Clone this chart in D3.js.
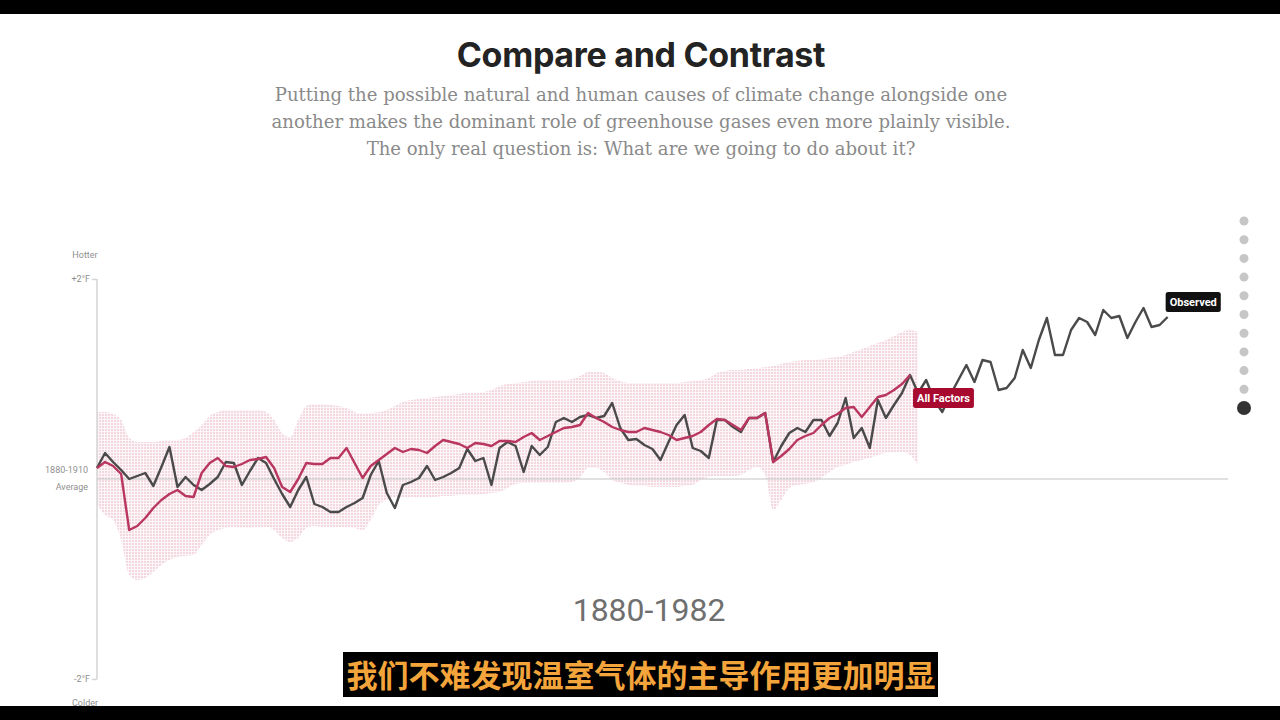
<!DOCTYPE html>
<html>
<head>
<meta charset="utf-8">
<script src="https://cdn.jsdelivr.net/npm/d3@7"></script>
<style>
  html, body { margin: 0; padding: 0; background: #fff; }
  svg { display: block; }
</style>
</head>
<body>
<svg id="chart" width="1280" height="720"></svg>
<script>
// ---------------- DATA ----------------
const titleText = "Compare and Contrast";
const subtitleLines = [
  "Putting the possible natural and human causes of climate change alongside one",
  "another makes the dominant role of greenhouse gases even more plainly visible.",
  "The only real question is: What are we going to do about it?"
];
const yTickLabels = [
  { v: 2, lines: ["+2°F"] },
  { v: 0, lines: ["1880-1910", "Average"] },
  { v: -2, lines: ["-2°F"] }
];
const hotterLabel = "Hotter";
const colderLabel = "Colder";
const periodLabel = "1880-1982";
const caption = "我们不难发现温室气体的主导作用更加明显";
const seriesNames = ["Observed", "All Factors"];
const navSteps = 11;
const activeStep = 10;

const observedStart = 1880;
// Observed temperature, °F relative to 1880-1910 average, 1880-2013
const observed = [
  0.11, 0.26, 0.17, 0.09, 0.00, 0.03, 0.06, -0.07, 0.12, 0.32,
  -0.08, 0.02, -0.06, -0.11, -0.05, 0.02, 0.17, 0.16, -0.06, 0.08,
  0.21, 0.16, 0.00, -0.15, -0.28, -0.11, 0.02, -0.25, -0.28, -0.33,
  -0.33, -0.28, -0.24, -0.19, 0.04, 0.18, -0.14, -0.29, -0.06, -0.03,
  0.01, 0.13, -0.01, 0.02, 0.06, 0.11, 0.30, 0.18, 0.21, -0.06,
  0.31, 0.37, 0.33, 0.07, 0.33, 0.24, 0.32, 0.57, 0.61, 0.57,
  0.62, 0.64, 0.61, 0.63, 0.76, 0.51, 0.39, 0.40, 0.34, 0.30,
  0.19, 0.37, 0.54, 0.64, 0.31, 0.28, 0.21, 0.59, 0.59, 0.52,
  0.47, 0.61, 0.61, 0.66, 0.17, 0.33, 0.46, 0.51, 0.47, 0.59,
  0.59, 0.43, 0.56, 0.81, 0.41, 0.51, 0.31, 0.79, 0.61, 0.74,
  0.86, 1.04, 0.86, 0.99, 0.79, 0.67, 0.84, 0.99, 1.14, 0.97,
  1.19, 1.17, 0.89, 0.91, 1.01, 1.29, 1.11, 1.39, 1.61, 1.24,
  1.24, 1.49, 1.61, 1.57, 1.44, 1.69, 1.61, 1.63, 1.41, 1.57,
  1.71, 1.52, 1.54, 1.62
];

const modelStart = 1880;
// All Factors model, °F, 1880-1981
const allFactors = [
  0.11, 0.17, 0.13, 0.05, -0.51, -0.47, -0.39, -0.29, -0.21, -0.15,
  -0.11, -0.17, -0.18, 0.06, 0.16, 0.21, 0.13, 0.12, 0.15, 0.19,
  0.20, 0.22, 0.11, -0.08, -0.13, 0.00, 0.16, 0.15, 0.15, 0.21,
  0.21, 0.31, 0.16, 0.01, 0.13, 0.19, 0.25, 0.31, 0.27, 0.30,
  0.29, 0.26, 0.33, 0.39, 0.37, 0.35, 0.31, 0.36, 0.35, 0.33,
  0.38, 0.38, 0.37, 0.42, 0.46, 0.39, 0.43, 0.47, 0.51, 0.52,
  0.54, 0.66, 0.61, 0.57, 0.52, 0.49, 0.47, 0.47, 0.51, 0.49,
  0.47, 0.44, 0.39, 0.41, 0.43, 0.47, 0.54, 0.60, 0.59, 0.54,
  0.49, 0.61, 0.61, 0.66, 0.17, 0.23, 0.30, 0.39, 0.43, 0.46,
  0.54, 0.61, 0.65, 0.71, 0.72, 0.62, 0.72, 0.82, 0.84, 0.89,
  0.95, 1.04
];

// Uncertainty range of All Factors, °F, 1880-1982
const bandUpper = [
  0.67, 0.67, 0.65, 0.59, 0.41, 0.37, 0.37, 0.37, 0.38, 0.39,
  0.39, 0.41, 0.47, 0.54, 0.63, 0.67, 0.69, 0.69, 0.69, 0.69,
  0.69, 0.67, 0.59, 0.46, 0.42, 0.59, 0.73, 0.75, 0.75, 0.74,
  0.73, 0.71, 0.67, 0.65, 0.66, 0.67, 0.69, 0.73, 0.77, 0.79,
  0.80, 0.81, 0.82, 0.83, 0.84, 0.85, 0.86, 0.86, 0.87, 0.89,
  0.93, 0.95, 0.96, 0.97, 0.98, 0.99, 0.99, 0.99, 0.99, 1.00,
  1.03, 1.07, 1.07, 1.06, 1.01, 0.98, 0.96, 0.96, 0.96, 0.96,
  0.96, 0.96, 0.96, 0.97, 0.98, 0.99, 1.01, 1.06, 1.08, 1.09,
  1.09, 1.10, 1.11, 1.12, 1.13, 1.15, 1.17, 1.18, 1.19, 1.19,
  1.20, 1.21, 1.22, 1.24, 1.27, 1.30, 1.33, 1.36, 1.39, 1.43,
  1.47, 1.49, 1.47
];
const bandLower = [
  -0.26, -0.36, -0.41, -0.61, -0.96, -1.01, -0.99, -0.93, -0.86, -0.81,
  -0.78, -0.77, -0.76, -0.66, -0.56, -0.51, -0.49, -0.48, -0.49, -0.49,
  -0.48, -0.48, -0.51, -0.59, -0.63, -0.59, -0.49, -0.47, -0.48, -0.48,
  -0.48, -0.48, -0.49, -0.51, -0.41, -0.26, -0.21, -0.18, -0.18, -0.18,
  -0.18, -0.18, -0.18, -0.17, -0.17, -0.16, -0.16, -0.16, -0.15, -0.14,
  -0.13, -0.09, -0.05, -0.04, -0.04, -0.04, -0.04, -0.04, -0.04, -0.03,
  0.01, 0.11, 0.11, 0.07, -0.01, -0.04, -0.06, -0.07, -0.07, -0.08,
  -0.08, -0.08, -0.08, -0.07, -0.06, -0.01, 0.02, 0.03, 0.03, 0.03,
  0.04, 0.09, 0.12, 0.04, -0.31, -0.21, -0.09, -0.06, -0.05, -0.03,
  0.01, 0.07, 0.12, 0.14, 0.17, 0.19, 0.21, 0.24, 0.26, 0.27,
  0.27, 0.24, 0.14
];

// ---------------- CHART ----------------
const svg = d3.select("#chart");
const W = 1280, H = 720;

const x = d3.scaleLinear().domain([1880, 2013]).range([97, 1167.65]);
const y = d3.scaleLinear().domain([-2, 2]).range([679, 279]);

const obsData = observed.map((v, i) => ({ year: observedStart + i, v }));
const afData = allFactors.map((v, i) => ({ year: modelStart + i, v }));
const bandData = bandUpper.map((u, i) => ({ year: modelStart + i, hi: u, lo: bandLower[i] }));

// dotted pattern for band
const defs = svg.append("defs");
const pat = defs.append("pattern")
  .attr("id", "dots").attr("patternUnits", "userSpaceOnUse")
  .attr("width", 3).attr("height", 3);
pat.append("rect").attr("width", 3).attr("height", 3).attr("fill", "#fdf6f8");
pat.append("rect").attr("width", 2).attr("height", 2).attr("fill", "#f3d8e0");

// background
svg.append("rect").attr("width", W).attr("height", H).attr("fill", "#fff");

// title & subtitle
svg.append("text")
  .attr("x", 641).attr("y", 67)
  .attr("text-anchor", "middle")
  .attr("font-family", "Inter, 'Open Sans', sans-serif")
  .attr("font-weight", 700).attr("font-size", 34)
  .attr("letter-spacing", -0.3)
  .attr("fill", "#232323")
  .text(titleText);

const subG = svg.append("g");
const subTexts = subG.selectAll("text").data(subtitleLines).join("text")
  .attr("x", 641).attr("y", (d, i) => 101 + i * 27)
  .attr("text-anchor", "middle")
  .attr("font-family", "'DejaVu Serif', 'Liberation Serif', serif")
  .attr("font-size", 18)
  .attr("fill", "#8a8a8a")
  .text(d => d);
// fit first line to the reference width (~733px)
const w0 = subTexts.node().getComputedTextLength();
subTexts.attr("font-size", 18 * 733 / w0);

// band
const area = d3.area()
  .x(d => x(d.year)).y0(d => y(d.lo)).y1(d => y(d.hi))
  .curve(d3.curveMonotoneX);
svg.append("path").datum(bandData)
  .attr("d", area).attr("fill", "url(#dots)");

// left axis
const axisG = svg.append("g").attr("transform", `translate(${x(1880)},0)`);
const yAxis = d3.axisLeft(y).tickValues([-2, 2]).tickSize(5).tickFormat("");
axisG.call(yAxis);
axisG.select(".domain").attr("stroke", "#d4d4d4").attr("stroke-width", 1.5)
  .attr("d", `M0,${y(2)}V${y(-2)}`);
axisG.selectAll(".tick line").attr("stroke", "#d4d4d4").attr("stroke-width", 1.5);

// baseline
svg.append("line")
  .attr("x1", x(1880)).attr("x2", 1228)
  .attr("y1", y(0)).attr("y2", y(0))
  .attr("stroke", "#c4c4c4").attr("stroke-width", 1.2);

// axis labels
const lblFont = "Roboto, 'Open Sans', sans-serif";
yTickLabels.forEach(t => {
  const n = t.lines.length;
  t.lines.forEach((s, i) => {
    svg.append("text")
      .attr("x", t.v === 0 ? 88 : 90)
      .attr("y", y(t.v) + 3 + (n > 1 ? (i === 0 ? -9 : 8) : 0))
      .attr("text-anchor", "end")
      .attr("font-family", lblFont).attr("font-size", 9)
      .attr("fill", "#8f8f8f")
      .text(s);
  });
});
svg.append("text").attr("x", 85).attr("y", y(2) - 21)
  .attr("text-anchor", "middle").attr("font-family", lblFont)
  .attr("font-size", 9).attr("fill", "#8f8f8f").text(hotterLabel);
svg.append("text").attr("x", 85).attr("y", y(-2) + 27)
  .attr("text-anchor", "middle").attr("font-family", lblFont)
  .attr("font-size", 9).attr("fill", "#8f8f8f").text(colderLabel);

// lines
const line = d3.line().x(d => x(d.year)).y(d => y(d.v)).curve(d3.curveLinear);
svg.append("path").datum(obsData)
  .attr("d", line).attr("fill", "none")
  .attr("stroke", "#4a4a4a").attr("stroke-width", 2.4)
  .attr("stroke-linejoin", "round");
svg.append("path").datum(afData)
  .attr("d", line).attr("fill", "none")
  .attr("stroke", "#b8365f").attr("stroke-width", 2.4)
  .attr("stroke-linejoin", "round");

// series labels
function tag(px, py, text, bg) {
  const g = svg.append("g").attr("transform", `translate(${px},${py})`);
  const t = g.append("text")
    .attr("x", 4).attr("y", 0).attr("dy", "0.35em")
    .attr("font-family", "Roboto, 'Liberation Sans', sans-serif")
    .attr("font-weight", 700).attr("font-size", 11)
    .attr("fill", "#fff").text(text);
  const w = t.node().getComputedTextLength() + 8;
  g.insert("rect", "text")
    .attr("x", 0).attr("y", -10).attr("width", w).attr("height", 20)
    .attr("rx", 2.5).attr("fill", bg);
}
const lastObs = obsData[obsData.length - 1];
tag(x(lastObs.year) - 2, y(lastObs.v) - 15, seriesNames[0], "#111");
const lastAf = afData[afData.length - 1];
tag(x(lastAf.year) + 3, y(lastAf.v) + 23, seriesNames[1], "#a8092f");

// period label
svg.append("text")
  .attr("x", 649).attr("y", 621)
  .attr("text-anchor", "middle")
  .attr("font-family", "Roboto, 'Open Sans', sans-serif")
  .attr("font-weight", 400).attr("font-size", 32)
  .attr("fill", "#6f6f6f")
  .text(periodLabel);

// navigation dots
const dotY = d3.scaleLinear().domain([0, navSteps - 1]).range([221, 408]);
svg.append("g").selectAll("circle").data(d3.range(navSteps)).join("circle")
  .attr("cx", 1244).attr("cy", d => dotY(d))
  .attr("r", d => d === activeStep ? 7 : 4.5)
  .attr("fill", d => d === activeStep ? "#333" : "#c6c6c6");

// video letterbox bars
svg.append("rect").attr("x", 0).attr("y", 0).attr("width", W).attr("height", 14).attr("fill", "#000");
svg.append("rect").attr("x", 0).attr("y", 706).attr("width", W).attr("height", 14).attr("fill", "#000");

// caption
const capG = svg.append("g");
capG.append("rect")
  .attr("x", 343).attr("y", 652).attr("width", 595).attr("height", 45)
  .attr("fill", "#000");
capG.append("text")
  .attr("x", 641).attr("y", 687)
  .attr("text-anchor", "middle")
  .attr("font-family", "'Noto Sans CJK SC', sans-serif")
  .attr("font-weight", 700).attr("font-size", 31)
  .attr("fill", "#f3a43a")
  .text(caption);
</script>
</body>
</html>
